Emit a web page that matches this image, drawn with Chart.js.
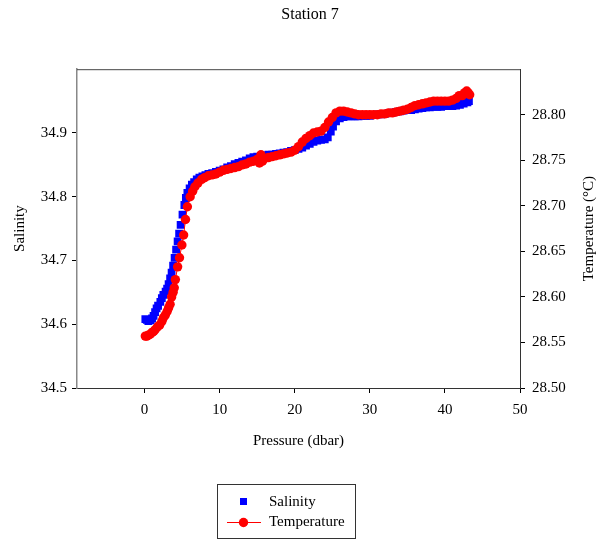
<!DOCTYPE html>
<html><head><meta charset="utf-8">
<script src="https://cdn.jsdelivr.net/npm/chart.js@4"></script>
<style>html,body{margin:0;padding:0;background:#fff}#wrap{width:609px;height:540px}</style>
</head><body><div id="wrap"><canvas id="c" width="609" height="540"></canvas></div>
<script>
const chartTitle = 'Station 7';
const xTitle = 'Pressure (dbar)';
const salTitle = 'Salinity';
const tempTitle = 'Temperature (°C)';
const seriesNames = ['Salinity', 'Temperature'];

const xTicks = [0, 10, 20, 30, 40, 50];
const salTicks = [34.5, 34.6, 34.7, 34.8, 34.9];
const tempTicks = [28.50, 28.55, 28.60, 28.65, 28.70, 28.75, 28.80];

const salPressure = [0.1,0.3,0.5,0.8,1.0,1.2,1.4,1.6,1.8,2.1,2.3,2.5,2.8,3.0,3.2,3.4,3.6,3.8,4.0,4.2,4.4,4.6,4.8,5.05,5.3,5.5,5.7,6.0,6.3,6.6,6.95,7.3,7.7,8.1,8.5,9.0,9.5,10.0,10.5,11.0,11.5,12.0,12.5,13.0,13.5,14.0,14.5,15.0,15.5,16.0,16.5,17.0,17.5,18.0,18.5,19.0,19.5,20.0,20.5,21.0,21.5,22.0,22.5,23.0,23.5,24.0,24.4,24.8,25.1,25.5,26.0,26.5,27.0,27.5,28.0,28.5,29.0,29.5,30.0,30.5,31.0,31.5,32.0,32.5,33.0,33.5,34.0,34.5,35.0,35.5,36.0,36.5,37.0,37.5,38.0,38.5,39.0,39.5,40.0,40.5,41.0,41.5,42.0,42.5,43.0,43.2];
const salinity = [34.608,34.607,34.605,34.606,34.609,34.613,34.619,34.625,34.629,34.635,34.641,34.646,34.651,34.656,34.663,34.672,34.681,34.692,34.704,34.717,34.730,34.742,34.756,34.772,34.787,34.798,34.806,34.813,34.819,34.823,34.827,34.830,34.832,34.834,34.836,34.837,34.839,34.841,34.843,34.846,34.848,34.851,34.853,34.855,34.857,34.860,34.862,34.863,34.864,34.865,34.866,34.866,34.867,34.868,34.869,34.870,34.872,34.873,34.875,34.877,34.880,34.883,34.886,34.888,34.889,34.890,34.893,34.902,34.910,34.918,34.923,34.925,34.926,34.926,34.926,34.926,34.927,34.927,34.927,34.928,34.929,34.929,34.930,34.931,34.932,34.933,34.934,34.935,34.936,34.936,34.937,34.938,34.939,34.940,34.940,34.941,34.941,34.941,34.942,34.942,34.942,34.943,34.944,34.946,34.948,34.950];

const tempPressure = [0.1,0.3,0.5,0.75,1.0,1.2,1.4,1.7,2.0,2.3,2.5,2.75,3.0,3.2,3.4,3.6,3.8,3.95,4.1,4.4,4.65,4.97,5.2,5.45,5.7,6.07,6.4,6.7,7.1,7.6,8.0,8.5,9.0,9.5,10.0,10.5,11.0,11.5,12.0,12.5,13.0,13.5,14.0,14.5,15.0,15.3,15.5,15.7,16.0,16.5,17.0,17.5,18.0,18.5,19.0,19.5,20.0,20.5,21.0,21.5,22.0,22.5,23.0,23.5,24.0,24.5,25.0,25.5,26.0,26.5,27.0,27.5,28.0,28.5,29.0,29.5,30.0,30.5,31.0,31.5,32.0,32.5,33.0,33.5,34.0,34.5,35.0,35.5,36.0,36.5,37.0,37.5,38.0,38.5,39.0,39.5,40.0,40.5,41.0,41.5,41.9,42.3,42.6,42.9,43.1,43.3];
const temperature = [28.557,28.557,28.558,28.559,28.561,28.562,28.564,28.567,28.569,28.573,28.577,28.580,28.584,28.588,28.592,28.600,28.605,28.610,28.619,28.633,28.643,28.657,28.668,28.685,28.699,28.710,28.716,28.721,28.725,28.729,28.731,28.733,28.734,28.735,28.737,28.739,28.740,28.741,28.742,28.743,28.745,28.746,28.748,28.749,28.751,28.747,28.756,28.749,28.752,28.753,28.754,28.755,28.756,28.757,28.758,28.759,28.761,28.765,28.770,28.774,28.777,28.780,28.781,28.782,28.786,28.792,28.797,28.802,28.804,28.804,28.803,28.802,28.801,28.800,28.800,28.800,28.800,28.800,28.800,28.801,28.801,28.802,28.802,28.803,28.804,28.805,28.806,28.808,28.810,28.811,28.812,28.813,28.814,28.815,28.815,28.815,28.815,28.815,28.816,28.818,28.821,28.821,28.824,28.826,28.824,28.822];

const FONT = 'Liberation Serif, Times New Roman, serif';
const BLUE = '#0000FF', RED = '#FF0000';

const salData = salPressure.map((p, i) => ({x: p, y: salinity[i]}));
const tempData = tempPressure.map((p, i) => ({x: p, y: temperature[i]}));

const framePlugin = {
  id: 'frame',
  afterDraw(chart) {
    const {ctx, chartArea: a} = chart;
    ctx.save();
    // top border
    ctx.strokeStyle = '#444';
    ctx.lineWidth = 1;
    ctx.beginPath();
    ctx.moveTo(a.left, a.top + 0.5);
    ctx.lineTo(a.right, a.top + 0.5);
    ctx.stroke();
    // right axis title (reads bottom-to-top)
    ctx.fillStyle = '#000';
    ctx.font = '15px ' + FONT;
    ctx.textAlign = 'center';
    ctx.textBaseline = 'middle';
    ctx.translate(589, (a.top + a.bottom) / 2);
    ctx.rotate(-Math.PI / 2);
    ctx.fillText(tempTitle, 0, 0);
    ctx.restore();

    // legend box
    ctx.save();
    const bx = 217.5, by = 484.5, bw = 138, bh = 54;
    ctx.strokeStyle = '#333';
    ctx.lineWidth = 1;
    ctx.strokeRect(bx, by, bw, bh);
    ctx.fillStyle = BLUE;
    ctx.fillRect(240, 498, 7, 7);
    ctx.strokeStyle = RED;
    ctx.beginPath();
    ctx.moveTo(227, 522.5);
    ctx.lineTo(261, 522.5);
    ctx.stroke();
    ctx.fillStyle = RED;
    ctx.beginPath();
    ctx.arc(243.5, 522.5, 4.7, 0, Math.PI * 2);
    ctx.fill();
    ctx.fillStyle = '#000';
    ctx.font = '15px ' + FONT;
    ctx.textAlign = 'left';
    ctx.textBaseline = 'middle';
    ctx.fillText(seriesNames[0], 269, 502);
    ctx.fillText(seriesNames[1], 269, 522);
    ctx.restore();
  }
};

new Chart(document.getElementById('c'), {
  type: 'scatter',
  data: {
    datasets: [
      {
        label: seriesNames[0], data: salData, yAxisID: 'yS', order: 1,
        showLine: false, pointStyle: 'rect', pointRadius: 5.5, pointHoverRadius: 5.5,
        backgroundColor: BLUE, borderColor: BLUE, borderWidth: 0
      },
      {
        label: seriesNames[1], data: tempData, yAxisID: 'yT', order: 0,
        showLine: true, borderColor: RED, borderWidth: 1,
        pointStyle: 'circle', pointRadius: 4.7, pointHoverRadius: 4.7,
        pointBackgroundColor: RED, pointBorderColor: RED, pointBorderWidth: 0
      }
    ]
  },
  options: {
    responsive: false, animation: false, devicePixelRatio: 1,
    layout: {padding: {left: 11, right: 0, top: 0, bottom: 90}},
    plugins: {
      legend: {display: false},
      tooltip: {enabled: false},
      title: {display: true, text: chartTitle, color: '#000',
        font: {family: FONT, size: 16, weight: 'normal'}, padding: {top: 5, bottom: 45}}
    },
    scales: {
      x: {
        type: 'linear', position: 'bottom', min: -9, max: 50,
        afterBuildTicks: s => { s.ticks = xTicks.map(v => ({value: v})); },
        afterFit: s => { s.height = 62; },
        grid: {drawOnChartArea: false, drawTicks: true, tickLength: 5, color: '#000'},
        border: {display: true, color: '#333', width: 1},
        ticks: {color: '#000', font: {family: FONT, size: 15}, padding: 8, maxRotation: 0},
        title: {display: true, text: xTitle, color: '#000', font: {family: FONT, size: 15}, padding: {top: 0, bottom: 0}}
      },
      yS: {
        type: 'linear', position: 'left', min: 34.5, max: 35.0,
        afterBuildTicks: s => { s.ticks = salTicks.map(v => ({value: v})); },
        afterFit: s => { s.width = 66; },
        grid: {drawOnChartArea: false, drawTicks: true, tickLength: 5, color: '#000'},
        border: {display: true, color: '#888', width: 1.5},
        ticks: {color: '#000', font: {family: FONT, size: 15}, padding: 5, callback: v => Number(v).toFixed(1)},
        title: {display: true, text: salTitle, color: '#000', font: {family: FONT, size: 15}, padding: {top: 0, bottom: 0}}
      },
      yT: {
        type: 'linear', position: 'right', min: 28.50, max: 28.85,
        afterBuildTicks: s => { s.ticks = tempTicks.map(v => ({value: v})); },
        afterFit: s => { s.width = 89; },
        grid: {drawOnChartArea: false, drawTicks: true, tickLength: 5, color: '#000'},
        border: {display: true, color: '#333', width: 1},
        ticks: {color: '#000', font: {family: FONT, size: 15}, padding: 7, callback: v => Number(v).toFixed(2)},
        title: {display: false}
      }
    }
  },
  plugins: [framePlugin]
});
</script>
</body></html>
